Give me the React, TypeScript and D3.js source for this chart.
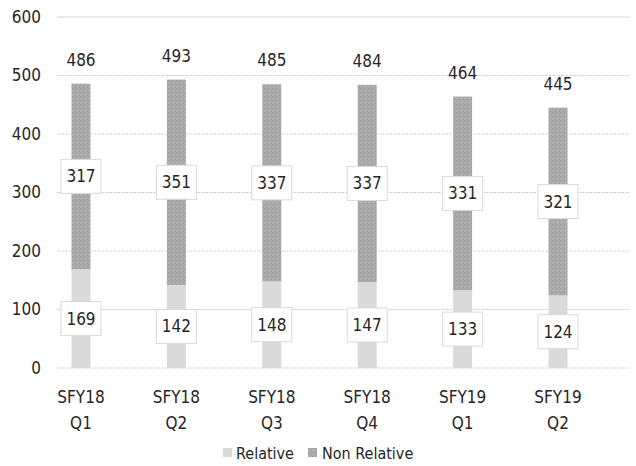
import React from "react";
import * as d3 from "d3";

const categories = ["SFY18|Q1", "SFY18|Q2", "SFY18|Q3", "SFY18|Q4", "SFY19|Q1", "SFY19|Q2"];
const relative = [169, 142, 148, 147, 133, 124];
const nonRelative = [317, 351, 337, 337, 331, 321];
const totals = [486, 493, 485, 484, 464, 445];
const yTicks = [0, 100, 200, 300, 400, 500, 600];
const legendLabels = ["Relative", "Non Relative"];

const W = 636;
const H = 466;
const FONT = "'DejaVu Sans Condensed', 'DejaVu Sans', sans-serif";
const TXT = "#262626";
const FS = 17;

export default function App() {
  const y = d3.scaleLinear().domain([0, 600]).range([368, 17]);
  const x = d3.scalePoint<string>().domain(categories).range([81, 558]);
  const barW = 19;
  const gridX0 = 57;
  const gridX1 = 630;
  const boxW = 40;
  const boxH = 34;

  return (
    <svg width={W} height={H} style={{ position: "absolute", left: 0, top: 0, background: "#fff" }}>
      <defs>
        <pattern id="nr" width="4" height="4" patternUnits="userSpaceOnUse">
          <rect width="4" height="4" fill="#ababab" />
          <rect x="0" y="0" width="1" height="1" fill="#9c9c9c" />
          <rect x="2" y="1" width="1" height="1" fill="#a2a2a2" />
          <rect x="1" y="2" width="1" height="1" fill="#b8b8b8" />
          <rect x="3" y="3" width="1" height="1" fill="#9f9f9f" />
        </pattern>
      </defs>
      {yTicks.map((t) => (
        <g key={t}>
          <line
            x1={gridX0}
            x2={gridX1}
            y1={y(t)}
            y2={y(t)}
            stroke="#d4d4d4"
            strokeWidth={1}
            strokeDasharray={t === 600 ? undefined : "3,1"}
          />
          <text x={41} y={y(t)} dy="0.35em" textAnchor="end" fontFamily={FONT} fontSize={FS} fill={TXT}>
            {t}
          </text>
        </g>
      ))}
      {categories.map((c, i) => {
        const cx = x(c)!;
        const r = relative[i];
        const n = nonRelative[i];
        const midR = y(r / 2);
        const midN = y(r + n / 2);
        const [l1, l2] = c.split("|");
        return (
          <g key={c}>
            <rect x={cx - barW / 2} y={y(r)} width={barW} height={y(0) - y(r)} fill="#dadada" />
            <rect x={cx - barW / 2} y={y(r + n)} width={barW} height={y(r) - y(r + n)} fill="url(#nr)" />
            <rect x={cx - boxW / 2} y={midR - boxH / 2} width={boxW} height={boxH} fill="#fff" stroke="#d9d9d9" />
            <text x={cx} y={midR} dy="0.35em" textAnchor="middle" fontFamily={FONT} fontSize={FS} fill={TXT}>
              {r}
            </text>
            <rect x={cx - boxW / 2} y={midN - boxH / 2} width={boxW} height={boxH} fill="#fff" stroke="#d9d9d9" />
            <text x={cx} y={midN} dy="0.35em" textAnchor="middle" fontFamily={FONT} fontSize={FS} fill={TXT}>
              {n}
            </text>
            <text x={cx} y={y(totals[i]) - 24} dy="0.35em" textAnchor="middle" fontFamily={FONT} fontSize={FS} fill={TXT}>
              {totals[i]}
            </text>
            <text x={cx} y={397} dy="0.35em" textAnchor="middle" fontFamily={FONT} fontSize={FS} fill={TXT}>
              {l1}
            </text>
            <text x={cx} y={423} dy="0.35em" textAnchor="middle" fontFamily={FONT} fontSize={FS} fill={TXT}>
              {l2}
            </text>
          </g>
        );
      })}
      <g>
        <rect x={223} y={448} width={9} height={9} fill="#dadada" />
        <text x={236} y={453} dy="0.35em" fontFamily={FONT} fontSize={16} fill={TXT}>
          {legendLabels[0]}
        </text>
        <rect x={308} y={448} width={9} height={9} fill="url(#nr)" />
        <text x={322} y={453} dy="0.35em" fontFamily={FONT} fontSize={16} fill={TXT}>
          {legendLabels[1]}
        </text>
      </g>
    </svg>
  );
}
